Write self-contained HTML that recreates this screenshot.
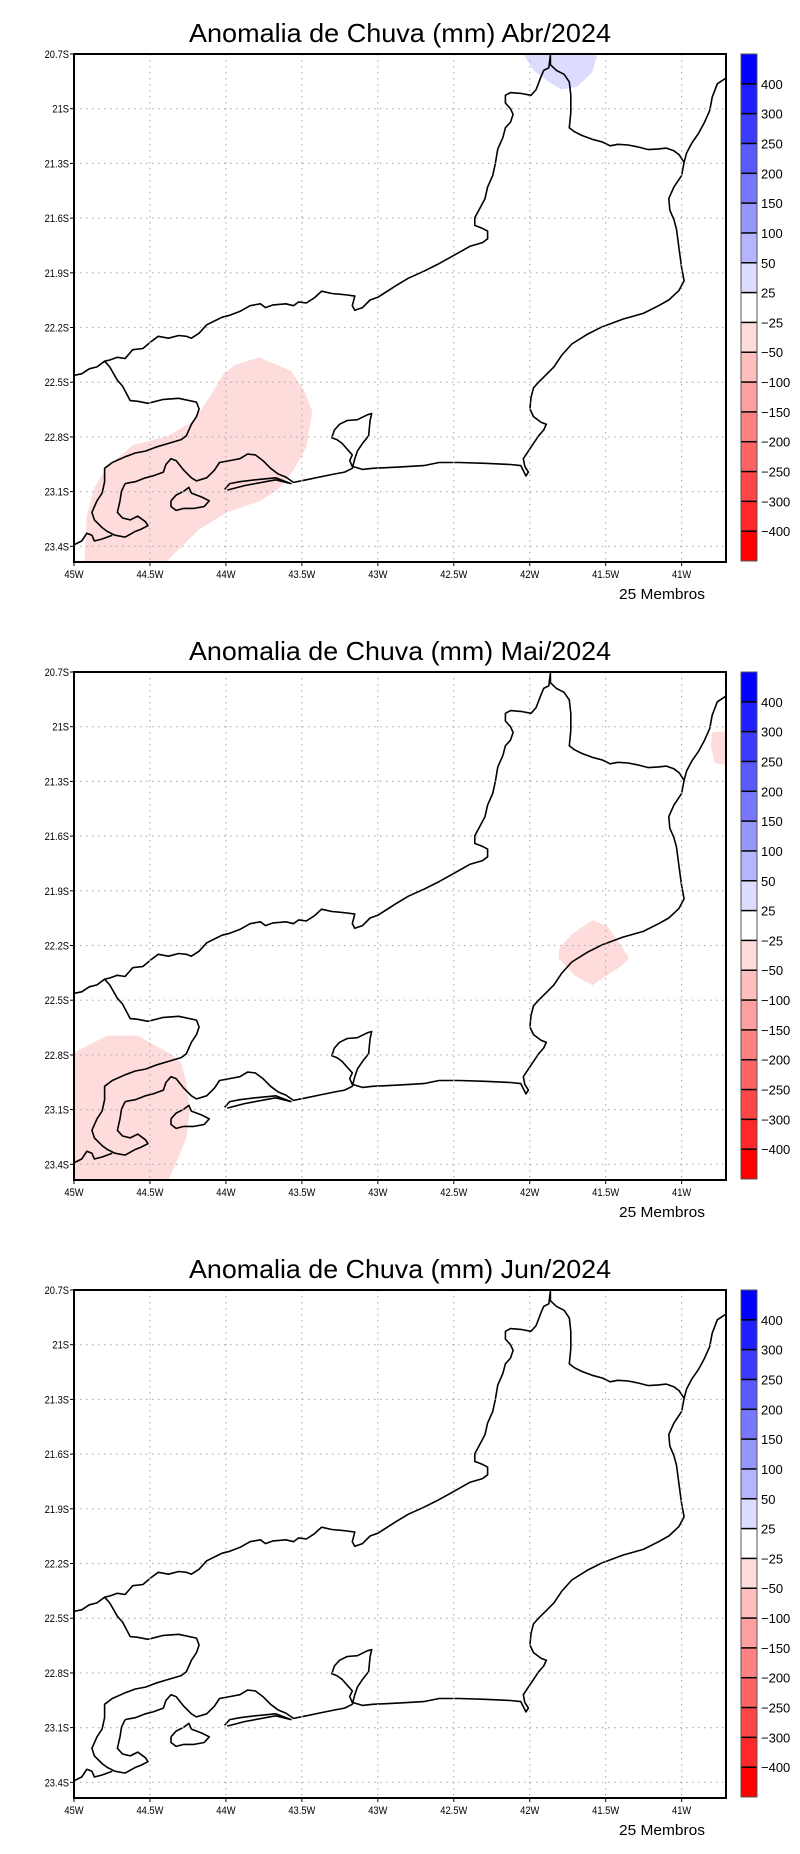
<!DOCTYPE html>
<html><head><meta charset="utf-8">
<style>
html,body{margin:0;padding:0;background:#fff;}
svg{display:block;}
text{font-family:"Liberation Sans",sans-serif;fill:#000;}
</style></head>
<body>
<svg id="root" width="800" height="1854" viewBox="0 0 800 1854" xmlns="http://www.w3.org/2000/svg"></svg>
<script>
// ---- data ----
const months = ["Abr/2024","Mai/2024","Jun/2024"];
const lonTicks = [-45,-44.5,-44,-43.5,-43,-42.5,-42,-41.5,-41];
const lonLabels = ["45W","44.5W","44W","43.5W","43W","42.5W","42W","41.5W","41W"];
const latTicks = [-20.7,-21,-21.3,-21.6,-21.9,-22.2,-22.5,-22.8,-23.1,-23.4];
const latLabels = ["20.7S","21S","21.3S","21.6S","21.9S","22.2S","22.5S","22.8S","23.1S","23.4S"];
const levelLabels = ["400","300","250","200","150","100","50","25","-25","-50","-100","-150","-200","-250","-300","-400"];
const levelColors = ["#0000ff","#1e1eff","#3c3cff","#5a5aff","#7878ff","#9696ff","#b4b4ff","#dcdcff","#ffffff","#ffdcdc","#ffbebe","#ffa0a0","#ff8282","#ff6464","#ff4646","#ff2828","#ff0000"];
const membersLabel = "25 Membros";
// map extent
const LON0=-45, LON1=-40.708, LAT0=-20.7, LAT1=-23.486;

// geometry digitized (reference units: x 145..1422 -> lon extent, y fraction 0..1 -> lat extent)
function ref(pts, top, bot){ return pts.map(p=>[LON0+(p[0]-145)/(1422-145)*(LON1-LON0), LAT0+(p[1]-top)/(bot-top)*(LAT1-LAT0)]); }
const R1=[142,1470], R2=[177,1422];
const outline = [
 ref([[145,982],[160,978],[175,965],[190,960],[205,945],[215,942],[230,935],[245,938],[260,915],[280,912],[295,895],[310,880],[330,885],[350,878],[365,880],[375,885],[390,872],[405,850],[420,840],[435,830],[450,825],[470,815],[490,800],[510,795],[520,805],[535,798],[560,795],[575,800],[585,790],[600,793],[615,780],[630,762],[650,768],[665,770],[680,772],[695,775],[690,800],[695,812],[710,805],[725,785],[740,778],[775,748],[800,728],[830,710],[860,690],[880,675],[900,660],[920,645],[945,635],[955,625],[955,605],[945,598],[930,590],[930,570],[940,545],[950,520],[955,490],[965,460],[970,430],[975,390],[985,360],[990,335],[1000,320],[1005,300],[1000,285],[990,270],[990,250],[1000,243],[1020,245],[1040,250],[1050,235],[1060,200],[1065,185],[1075,178],[1078,145],[1078,170],[1090,185],[1105,195],[1115,215],[1118,250],[1118,295],[1115,335],[1125,345],[1140,355],[1160,365],[1180,372],[1195,382],[1210,378],[1230,380],[1250,385],[1270,392],[1290,390],[1305,388],[1320,395],[1330,405],[1340,425],[1335,460],[1320,490],[1310,520],[1312,550],[1320,575],[1325,600],[1330,650],[1335,700],[1340,735],[1330,760],[1310,785],[1290,800],[1260,820],[1220,835],[1180,855],[1150,875],[1120,900],[1100,930],[1085,960],[1070,980],[1055,1000],[1045,1015],[1040,1040],[1038,1070],[1045,1090],[1060,1105],[1070,1110],[1065,1125],[1055,1140],[1045,1160],[1035,1180],[1025,1200],[1028,1220],[1035,1235],[1030,1245],[1020,1218],[1000,1215],[950,1212],[900,1210],[860,1210],[830,1218],[780,1222],[730,1225],[710,1228],[690,1220],[685,1205],[690,1190],[680,1175],[670,1160],[660,1150],[650,1145],[655,1125],[665,1110],[680,1100],[700,1098],[720,1085],[728,1082],[725,1100],[722,1140],[710,1160],[700,1180],[695,1200],[690,1225],[675,1235],[655,1240],[625,1248],[600,1255],[575,1262],[560,1248],[545,1240],[530,1225],[515,1205],[500,1190],[485,1188],[470,1200],[450,1205],[430,1210],[420,1230],[405,1250],[385,1258],[375,1250],[360,1230],[345,1205],[335,1200],[325,1215],[320,1235],[300,1245],[285,1250],[265,1260],[245,1265]],R1[0],R1[1]),
 ref([[205,945],[215,960],[230,995],[240,1010],[248,1030],[255,1048],[270,1050],[290,1055],[320,1045],[350,1042],[385,1052],[390,1070],[385,1090],[375,1110],[365,1140],[355,1150],[330,1160],[305,1170],[285,1180],[265,1185],[245,1195],[220,1210],[205,1225],[205,1260],[200,1290],[190,1310],[180,1340],[185,1360],[200,1380],[210,1390],[225,1400],[245,1405],[265,1390],[275,1385],[290,1375],[285,1365],[270,1350],[255,1360],[240,1355],[230,1340],[235,1310],[238,1285],[245,1265]],R1[0],R1[1]),
 ref([[145,1425],[160,1415],[170,1395],[180,1400],[185,1415],[200,1410],[220,1400]],R1[0],R1[1]),
 ref([[1340,425],[1345,400],[1355,375],[1368,350],[1380,320],[1390,290],[1395,255],[1405,220],[1422,205]],R1[0],R1[1]),
 ref([[335,1310],[345,1295],[360,1285],[370,1275],[375,1290],[395,1300],[410,1310],[400,1325],[380,1330],[360,1330],[345,1335],[335,1325],[335,1310]],R1[0],R1[1]),
 ref([[440,1280],[450,1265],[470,1260],[500,1255],[540,1250],[570,1265],[540,1255],[480,1270],[445,1282]],R1[0],R1[1])
];
// anomaly areas per month: [levelIndex, polygon]
const anomalies = [
 [[9, ref([[165,1470],[170,1350],[185,1275],[210,1220],[260,1165],[330,1140],[380,1100],[410,1040],[440,975],[460,955],[508,935],[570,970],[595,1020],[612,1075],[600,1170],[575,1230],[545,1280],[510,1310],[445,1340],[390,1385],[325,1470]],R1[0],R1[1])],
  [7, ref([[1025,142],[1045,185],[1075,215],[1100,235],[1130,228],[1160,190],[1170,142]],R1[0],R1[1])]],
 [[9, ref([[145,1110],[160,1100],[210,1068],[270,1068],[330,1110],[355,1135],[365,1180],[372,1250],[365,1320],[345,1380],[330,1422],[145,1422]],R2[0],R2[1])],
  [9, ref([[1095,855],[1120,820],[1160,785],[1190,800],[1215,845],[1232,878],[1220,895],[1190,920],[1160,945],[1125,920],[1095,880]],R2[0],R2[1])],
  [9, ref([[1395,325],[1422,322],[1422,405],[1400,400],[1392,360]],R2[0],R2[1])]],
 []
];

const NS="http://www.w3.org/2000/svg";
const root=document.getElementById('root');
function el(tag,attrs,parent){const e=document.createElementNS(NS,tag);for(const k in attrs)e.setAttribute(k,attrs[k]);(parent||root).appendChild(e);return e;}

const PX0=74, PX1=726, PH=508, PANEL_DY=618, PANEL_Y0=54;
months.forEach((m,pi)=>{
  const top=PANEL_Y0+pi*PANEL_DY, bot=top+PH;
  const xs=lon=>PX0+(lon-LON0)/(LON1-LON0)*(PX1-PX0);
  const ys=lat=>top+(lat-LAT0)/(LAT1-LAT0)*PH;
  const g=el('g',{});
  
  
  const t=el('text',{x:400,y:top-12,'font-size':26,'text-anchor':'middle',textLength:422,lengthAdjust:'spacingAndGlyphs'},g);
  t.textContent='Anomalia de Chuva (mm) '+m;
  
  
  const clipId='clip'+pi;
  const cp=el('clipPath',{id:clipId},g); el('rect',{x:PX0,y:top,width:PX1-PX0,height:PH},cp);
  const mapG=el('g',{'clip-path':'url(#'+clipId+')'},g);
  anomalies[pi].forEach(a=>{
    const p=el('polygon',{points:a[1].map(q=>xs(q[0]).toFixed(1)+','+ys(q[1]).toFixed(1)).join(' '),fill:levelColors[a[0]]},mapG);
    
    
  });
  // grid
  lonTicks.forEach((lo,i)=>{
    const x=xs(lo);
    if(i>0){const gl=el('line',{x1:x,x2:x,y1:top,y2:bot,stroke:'#b0b0b0','stroke-width':1.2,'stroke-dasharray':'1.5,4.5'},g);
      
      }
    el('line',{x1:x,x2:x,y1:bot,y2:bot+4,stroke:'#000','stroke-width':1},g);
    const tl=el('text',{x:x,y:bot+16,'font-size':11,'text-anchor':'middle',transform:`translate(${x},0) scale(0.85,1) translate(${-x},0)`},g);
    tl.textContent=lonLabels[i];
    
    
  });
  latTicks.forEach((la,i)=>{
    const y=ys(la);
    if(i>0){const gl=el('line',{x1:PX0,x2:PX1,y1:y,y2:y,stroke:'#b0b0b0','stroke-width':1.2,'stroke-dasharray':'1.5,4.5'},g);
      
      }
    el('line',{x1:PX0-4,x2:PX0,y1:y,y2:y,stroke:'#000','stroke-width':1},g);
    const tl=el('text',{x:PX0-5,y:y+4,'font-size':11,'text-anchor':'end',transform:`translate(${PX0-5},0) scale(0.85,1) translate(${-(PX0-5)},0)`},g);
    tl.textContent=latLabels[i];
    
    
  });
  outline.forEach((line,li)=>{
    const pl=el('polyline',{points:line.map(q=>xs(q[0]).toFixed(1)+','+ys(q[1]).toFixed(1)).join(' '),fill:'none',stroke:'#000','stroke-width':1.6,'stroke-linejoin':'round'},mapG);
    
    
  });
  const fr=el('rect',{x:PX0,y:top,width:PX1-PX0,height:PH,fill:'none',stroke:'#000','stroke-width':2},g);
  
  
  // colorbar
  const cb=el('g',{},g);
  
  
  const n=levelColors.length, bh=(PH-1)/n, cx=741, cw=16;
  levelColors.forEach((c,i)=>{
    const r=el('rect',{x:cx,y:top+i*bh,width:cw,height:bh,fill:c},cb);
    
    
  });
  levelLabels.forEach((lab,i)=>{
    const y=top+(i+1)*bh;
    el('line',{x1:cx,x2:cx+cw,y1:y,y2:y,stroke:'#000','stroke-width':1.5},cb);
    const tl=el('text',{x:cx+cw+4,y:y+5,'font-size':13},cb);
    tl.textContent=lab.replace('-','\u2212');
    
    
  });
  el('rect',{x:cx,y:top,width:cw,height:n*bh,fill:'none',stroke:'#555','stroke-width':1},cb);
  const mt=el('text',{x:619,y:top+545,'font-size':15,textLength:86,lengthAdjust:'spacingAndGlyphs'},g);
  mt.textContent=membersLabel;
  
  
});
</script>
</body></html>
